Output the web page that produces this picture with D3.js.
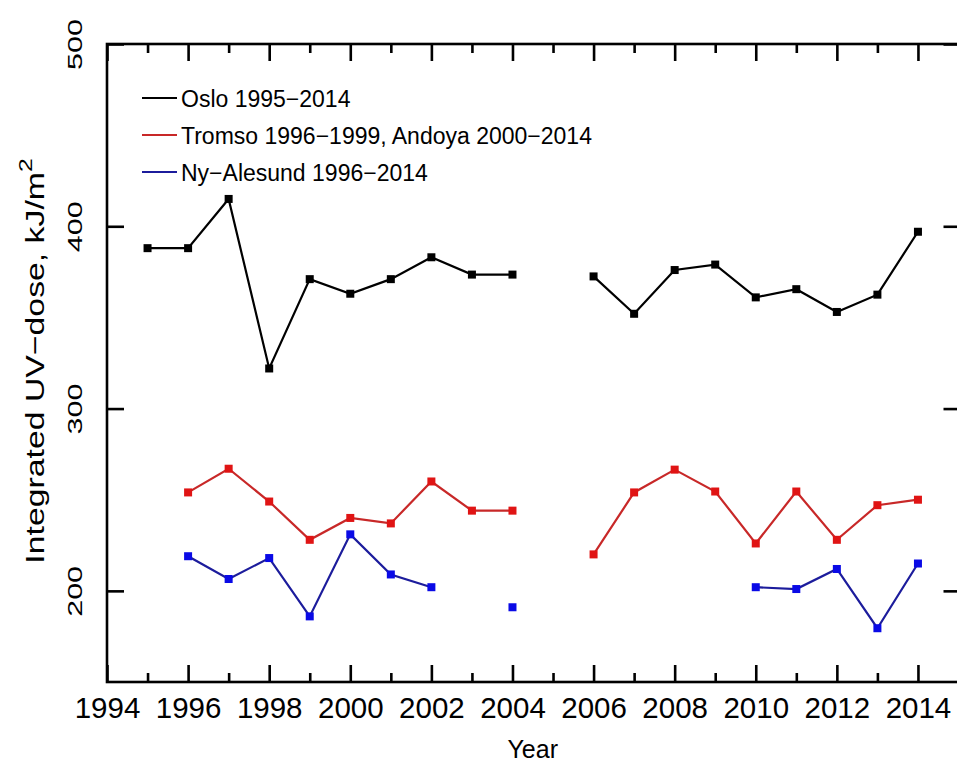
<!DOCTYPE html>
<html>
<head>
<meta charset="utf-8">
<script src="https://cdn.jsdelivr.net/npm/d3@7"></script>
<style>
  html, body { margin: 0; padding: 0; background: #fff; }
  svg { display: block; }
  text { font-family: "Liberation Sans", Arial, sans-serif; fill: #000; }
</style>
</head>
<body>
<svg id="chart" width="957" height="767"></svg>
<script>
// ---- data ----
const years = [1995,1996,1997,1998,1999,2000,2001,2002,2003,2004,2005,2006,2007,2008,2009,2010,2011,2012,2013,2014];
const oslo = [388, 388, 415, 322, 371, 363, 371, 383, 373.5, 373.5, null, 372.5, 352, 376, 379, 361, 365.5, 353, 362.5, 397];
const tromsoAndoya = [null, 254, 267, 249, 228, 240, 237, 260, 244, 244, null, 220, 254, 266.5, 254.5, 226, 254.5, 228, 247, 250];
const nyAlesund = [null, 219, 206.5, 218, 186, 231, 209, 202, null, 191, null, null, null, null, null, 202, 201, 212, 179.5, 215];
const seriesNames = ["Oslo 1995\u22122014", "Tromso 1996\u22121999, Andoya 2000\u22122014", "Ny\u2212Alesund 1996\u22122014"];
const xMajorTicks = [1994,1996,1998,2000,2002,2004,2006,2008,2010,2012,2014];
const xMinorTicks = [1995,1997,1999,2001,2003,2005,2007,2009,2011,2013];
const yTicks = [200, 300, 400, 500];
const xDomain = [1994, 2015];
const yDomain = [150, 500];

const series = [
  {name: seriesNames[0], values: oslo, line: "#000000", mark: "#000000"},
  {name: seriesNames[1], values: tromsoAndoya, line: "#c82828", mark: "#e01414"},
  {name: seriesNames[2], values: nyAlesund, line: "#1c1c9c", mark: "#0a0ae6"}
];

// ---- layout ----
const L = 107, R = 958.5, T = 44, B = 682;
const svg = d3.select("#chart");
const x = d3.scaleLinear().domain(xDomain).range([L, R]);
const y = d3.scaleLinear().domain(yDomain).range([B, T]);

// frame
svg.append("rect").attr("x", L).attr("y", T).attr("width", R - L).attr("height", B - T)
  .attr("fill", "none").attr("stroke", "#000").attr("stroke-width", 2.6);

function styleAxis(g) {
  g.select(".domain").remove();
  g.selectAll(".tick line").attr("stroke", "#000").attr("stroke-width", 2.6);
}

// bottom axis (inward ticks)
const xb = svg.append("g").attr("transform", `translate(0,${B})`)
  .call(d3.axisBottom(x).tickValues(xMajorTicks).tickSize(-17).tickPadding(0).tickFormat(d3.format("d")));
styleAxis(xb);
xb.selectAll(".tick text").attr("y", 36).attr("dy", 0)
  .style("font-size", "29.5px").style("font-family", "'Liberation Sans', Arial, sans-serif");
svg.append("g").attr("transform", `translate(0,${B})`)
  .call(d3.axisBottom(x).tickValues(xMinorTicks).tickSize(-9).tickFormat(""))
  .call(styleAxis);

// top axis
svg.append("g").attr("transform", `translate(0,${T})`)
  .call(d3.axisTop(x).tickValues(xMajorTicks).tickSize(-17).tickFormat(""))
  .call(styleAxis);
svg.append("g").attr("transform", `translate(0,${T})`)
  .call(d3.axisTop(x).tickValues(xMinorTicks).tickSize(-9).tickFormat(""))
  .call(styleAxis);

// left axis
const yl = svg.append("g").attr("transform", `translate(${L},0)`)
  .call(d3.axisLeft(y).tickValues(yTicks).tickSize(-17).tickFormat(d3.format("d")));
styleAxis(yl);
yl.selectAll(".tick text")
  .attr("x", null).attr("dy", null)
  .attr("text-anchor", "middle")
  .attr("transform", "translate(-25,0) rotate(-90) scale(1.45,1)")
  .style("font-size", "21px").style("font-family", "'Liberation Sans', Arial, sans-serif");

// right axis
svg.append("g").attr("transform", `translate(${R},0)`)
  .call(d3.axisRight(y).tickValues(yTicks).tickSize(-15).tickFormat(""))
  .call(styleAxis);

// axis titles
svg.append("text").attr("x", (L + R) / 2).attr("y", 758).attr("text-anchor", "middle")
  .style("font-size", "25px").text("Year");

const yt = svg.append("text").attr("text-anchor", "middle")
  .attr("transform", `translate(44,${(T + B) / 2 - 2}) rotate(-90) scale(1.3,1)`)
  .style("font-size", "26px");
yt.append("tspan").text("Integrated UV\u2212dose,  kJ/m");
yt.append("tspan").attr("dy", -12).style("font-size", "19px").text("2");

// ---- series ----
const line = d3.line().defined(d => d.v != null).x(d => x(d.year)).y(d => y(d.v));
series.forEach(s => {
  const pts = years.map((yr, i) => ({year: yr, v: s.values[i]}));
  svg.append("path").datum(pts).attr("d", line)
    .attr("fill", "none").attr("stroke", s.line).attr("stroke-width", 2.2).attr("stroke-linejoin", "miter");
  svg.append("g").selectAll("rect").data(pts.filter(d => d.v != null)).join("rect")
    .attr("x", d => x(d.year) - 4).attr("y", d => y(d.v) - 4)
    .attr("width", 8).attr("height", 8).attr("fill", s.mark);
});

// ---- legend ----
const legend = svg.append("g");
series.forEach((s, i) => {
  const ly = 98 + i * 37;
  legend.append("line").attr("x1", 142).attr("x2", 177).attr("y1", ly).attr("y2", ly)
    .attr("stroke", s.line).attr("stroke-width", 2.2);
  legend.append("text").attr("x", 181).attr("y", ly + 8.5).style("font-size", "23px").text(s.name);
});
</script>
</body>
</html>
